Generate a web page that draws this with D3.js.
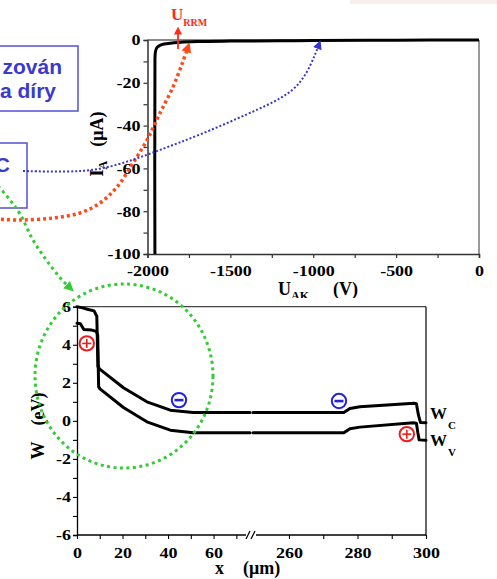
<!DOCTYPE html>
<html><head><meta charset="utf-8">
<script src="https://cdn.jsdelivr.net/npm/d3@7"></script>
<style>body{margin:0;background:#fff} svg{display:block}</style>
</head><body>
<svg id="c" width="497" height="579"></svg>
<script>
// ---------- Upper chart: reverse I-V characteristic ----------
const uAK = [-1955,-1955,-1953,-1948,-1940,-1925,-1900,-1850,-1800,-1700,-1500,-1200,-1000,-500,0];
const iA  = [-110,-9,-6,-4.3,-3.3,-2.5,-1.9,-1.4,-1.0,-0.7,-0.5,-0.35,-0.25,-0.1,0];
const uTicks = d3.range(-2000, 1, 250);
const iTicks = d3.range(-100, 1, 10);
const uRRM = -1816;

// ---------- Lower chart: band diagram ----------
const xC_left  = [0,2,5,7.5,8.7,9.2,10,20.4,30.7,41,51,76];
const wC_left  = [6.0,5.95,5.85,5.78,5.5,2.85,2.72,1.74,1.0,0.56,0.44,0.44];
const xV_left  = [0,1.5,3,6.5,8.5,9.1,9.5,10.1,20.4,30.7,41,51,76];
const wV_left  = [5.13,5.1,4.8,4.77,4.7,4.5,1.8,1.68,0.7,-0.05,-0.49,-0.63,-0.63];
const xC_right = [249.5,276,277.8,280.7,296.5,297.2,297.8,298.4,300];
const wC_right = [0.44,0.44,0.65,0.74,0.92,0.9,0.3,-0.09,-0.1];
const xV_right = [249.5,276,277.8,280.7,296.3,297.2,297.6,298,300];
const wV_right = [-0.63,-0.63,-0.41,-0.33,-0.1,-0.12,-0.6,-1.0,-1.02];
const xTicksLeft = [0,10,20,30,40,50,60,70];
const xTicksRight = [260,270,280,290,300];
const wTicks = d3.range(-6, 7, 1);
// carriers: [x, W]
const holes = [[4.3,4.07,"L"],[294.4,-0.7,"R"]];
const electrons = [[44.8,1.09,"L"],[274.6,1.04,"R"]];

// ---------- annotation paths (pixel overlays) ----------
const redPath   = [[-5,219],[20,220],[53,218],[80,213],[100,203],[117,187],[133,163],[147,140],[160,113],[173,87],[182,64],[187,50]];
const bluePath  = [[23,171],[67,172],[100,170],[133,160],[157,151],[200,135],[250,113],[283,98],[300,84],[311,65],[318,47]];
const greenPath = [[-2,186],[10,200],[20,214],[33,240],[47,261],[62,280],[68,286]];

const SERIF = "'Liberation Serif','Times New Roman',serif";
const SANS = "'Liberation Sans',Arial,sans-serif";
const svg = d3.select("#c");

function stretch(sel, s){
  sel.each(function(){
    const t = d3.select(this);
    const x = +t.attr("x") || 0;
    t.attr("x", x / s);
    const tr = t.attr("transform") || "";
    t.attr("transform", (tr + ` scale(${s},1)`).trim());
  });
}

// faint artefact at top right
svg.append("rect").attr("x",350).attr("y",0).attr("width",147).attr("height",4).attr("fill","#f7efeb");

// ===== Upper chart =====
const xU = d3.scaleLinear([-2000,0],[147.5,479]);
const yU = d3.scaleLinear([-100,0],[254,40]);
const up = svg.append("g");
up.append("clipPath").attr("id","clipU").append("rect")
  .attr("x",147.5).attr("y",37).attr("width",332).attr("height",217);

// frame top/right (grey)
up.append("line").attr("x1",147.5).attr("x2",479).attr("y1",40).attr("y2",40).attr("stroke","#8a8a8a").attr("stroke-width",2);
up.append("line").attr("x1",479).attr("x2",479).attr("y1",40).attr("y2",254).attr("stroke","#777").attr("stroke-width",1.5);

const axU = up.append("g").attr("transform","translate(0,254)")
  .call(d3.axisBottom(xU).tickValues(uTicks).tickSize(4).tickPadding(7)
        .tickFormat(d => d % 500 === 0 ? String(d) : ""));
const ayU = up.append("g").attr("transform","translate(147.5,0)")
  .call(d3.axisLeft(yU).tickValues(iTicks).tickSize(4).tickPadding(3)
        .tickFormat(d => d % 20 === 0 ? String(d) : ""));
[axU, ayU].forEach(a => {
  a.select(".domain").attr("stroke","#333").attr("stroke-width",1.5);
  a.selectAll(".tick line").attr("stroke","#333").attr("stroke-width",1.2);
  a.selectAll("text").attr("font-family",SERIF).attr("font-weight","bold").attr("font-size",15).attr("fill","#000");
  stretch(a.selectAll("text"), 1.2);
});

up.append("path")
  .datum(uAK.map((u,i)=>[u,iA[i]]))
  .attr("clip-path","url(#clipU)")
  .attr("d", d3.line().x(d=>xU(d[0])).y(d=>yU(d[1])).curve(d3.curveCatmullRom.alpha(0.5)))
  .attr("fill","none").attr("stroke","#000").attr("stroke-width",3).attr("stroke-linejoin","round");

// axis titles upper
const tI = up.append("text").attr("transform","translate(103,144) rotate(-90)")
  .attr("text-anchor","middle").attr("font-family",SERIF).attr("font-weight","bold").attr("font-size",18);
tI.append("tspan").text("I");
tI.append("tspan").attr("font-size",12).attr("dy",4).text("A");
tI.append("tspan").attr("dy",-4).attr("dx",14).text("(μA)");

const tU = up.append("text").attr("x",278).attr("y",295)
  .attr("font-family",SERIF).attr("font-weight","bold").attr("font-size",18);
tU.append("tspan").text("U");
tU.append("tspan").attr("font-size",12).attr("dy",5).text("AK");
tU.append("tspan").attr("dy",-5).attr("dx",24).text("(V)");

// U_RRM annotation
const red = "#ff2a1a";
const tR = up.append("text").attr("x",171).attr("y",20).attr("fill",red)
  .attr("font-family",SERIF).attr("font-weight","bold").attr("font-size",17);
tR.append("tspan").text("U");
tR.append("tspan").attr("font-size",10).attr("dy",6).text("RRM");

const defs = svg.append("defs");
function marker(id, color, w, h){
  defs.append("marker").attr("id",id).attr("viewBox","0 0 10 10").attr("refX",2).attr("refY",5)
    .attr("markerWidth",w).attr("markerHeight",h).attr("markerUnits","userSpaceOnUse").attr("orient","auto")
    .append("path").attr("d","M0,0 L10,5 L0,10 Z").attr("fill",color);
}
marker("mRRM", red, 8, 8);
marker("mRed", "#ff4a1a", 10, 10);
marker("mBlue", "#3636cc", 9, 9);
marker("mGreen", "#33cc33", 10, 10);

up.append("line").attr("x1",xU(uRRM)).attr("x2",xU(uRRM)).attr("y1",49).attr("y2",33)
  .attr("stroke",red).attr("stroke-width",1.8).attr("marker-end","url(#mRRM)");

// ===== Lower chart (pasted panel) =====
svg.append("rect").attr("x",0).attr("y",298).attr("width",497).attr("height",281).attr("fill","#fff");
const xL = d3.scaleLinear([0,76],[77,250]);
const xR = d3.scaleLinear([249.5,300],[253,426]);
const yW = d3.scaleLinear([-6,6],[535,306.7]);
const lo = svg.append("g");

lo.append("line").attr("x1",77).attr("x2",426).attr("y1",306.7).attr("y2",306.7).attr("stroke","#444").attr("stroke-width",1.3);
lo.append("line").attr("x1",426).attr("x2",426).attr("y1",306.7).attr("y2",535).attr("stroke","#000").attr("stroke-width",1.2);
lo.append("line").attr("x1",77).attr("x2",426).attr("y1",535).attr("y2",535).attr("stroke","#000").attr("stroke-width",1.3);

const ayW = lo.append("g").attr("transform","translate(77,0)")
  .call(d3.axisLeft(yW).tickValues(wTicks).tickSize(4).tickPadding(2)
        .tickFormat(d => d % 2 === 0 ? String(d) : ""));
const axL = lo.append("g").attr("transform","translate(0,535)")
  .call(d3.axisBottom(xL).tickValues(xTicksLeft).tickSize(4).tickPadding(8)
        .tickFormat(d => d % 20 === 0 ? String(d) : ""));
const axR = lo.append("g").attr("transform","translate(0,535)")
  .call(d3.axisBottom(xR).tickValues(xTicksRight).tickSize(4).tickPadding(8)
        .tickFormat(d => d % 20 === 0 ? String(d) : ""));
axL.select(".domain").remove();
axR.select(".domain").remove();
[ayW, axL, axR].forEach(a => {
  a.select(".domain").attr("stroke","#000").attr("stroke-width",1.3);
  a.selectAll(".tick line").attr("stroke","#000").attr("stroke-width",1.1);
  a.selectAll("text").attr("font-family",SERIF).attr("font-weight","bold").attr("font-size",15).attr("fill","#000");
  stretch(a.selectAll("text"), 1.2);
});
// axis break marks
lo.append("rect").attr("x",246).attr("y",532).attr("width",10).attr("height",6).attr("fill","#fff");
[[246,250],[251,255]].forEach(([a,b]) => {
  lo.append("line").attr("x1",a).attr("y1",539).attr("x2",b).attr("y2",531).attr("stroke","#000").attr("stroke-width",1.3);
});

const lineL = d3.line().x(d=>xL(d[0])).y(d=>yW(d[1]));
const lineR = d3.line().x(d=>xR(d[0])).y(d=>yW(d[1]));
const bands = [
  [xC_left.map((x,i)=>[x,wC_left[i]]), lineL],
  [xV_left.map((x,i)=>[x,wV_left[i]]), lineL],
  [xC_right.map((x,i)=>[x,wC_right[i]]), lineR],
  [xV_right.map((x,i)=>[x,wV_right[i]]), lineR]
];
bands.forEach(([data, gen]) => {
  lo.append("path").datum(data).attr("d", gen)
    .attr("fill","none").attr("stroke","#000").attr("stroke-width",3)
    .attr("stroke-linejoin","round").attr("stroke-linecap","round");
});

// band labels
function bandLabel(x, y, sub){
  const t = lo.append("text").attr("x",x).attr("y",y).attr("font-family",SERIF).attr("font-weight","bold").attr("font-size",17);
  t.append("tspan").text("W");
  t.append("tspan").attr("font-size",11).attr("dy",10).attr("dx",1).text(sub);
}
bandLabel(430, 419, "C");
bandLabel(430, 446, "V");

// axis titles lower
const tW = lo.append("text").attr("transform","translate(44,426) rotate(-90)")
  .attr("text-anchor","middle").attr("font-family",SERIF).attr("font-weight","bold").attr("font-size",18);
tW.append("tspan").text("W");
tW.append("tspan").attr("dx",16).text("(eV)");
const tX = lo.append("text").attr("x",215).attr("y",574)
  .attr("font-family",SERIF).attr("font-weight","bold").attr("font-size",18);
tX.append("tspan").text("x");
tX.append("tspan").attr("dx",19).text("(μm)");

// carriers
function carrier(x, w, side, color, plus){
  const cx = side === "L" ? xL(x) : xR(x), cy = yW(w);
  const g = lo.append("g").attr("stroke",color).attr("fill","none");
  g.append("circle").attr("cx",cx).attr("cy",cy).attr("r",7.2).attr("stroke-width",2);
  g.append("line").attr("x1",cx-4.5).attr("x2",cx+4.5).attr("y1",cy).attr("y2",cy).attr("stroke-width", plus ? 1.6 : 2.6);
  if (plus) g.append("line").attr("x1",cx).attr("x2",cx).attr("y1",cy-4.5).attr("y2",cy+4.5).attr("stroke-width",1.6);
}
holes.forEach(d => carrier(d[0], d[1], d[2], "#ee1c1c", true));
electrons.forEach(d => carrier(d[0], d[1], d[2], "#2222dd", false));

// ===== Annotations =====
const blue = "#3a3acc";
const ann = svg.append("g");
// text boxes
ann.append("rect").attr("x",-10).attr("y",46).attr("width",88).attr("height",65)
  .attr("fill","#fff").attr("stroke","#5050d8").attr("stroke-width",1.5);
ann.append("text").attr("x",62).attr("y",74).attr("text-anchor","end").attr("fill",blue)
  .attr("font-family",SANS).attr("font-weight","bold").attr("font-size",21).text("zován");
ann.append("text").attr("x",56).attr("y",98).attr("text-anchor","end").attr("fill",blue)
  .attr("font-family",SANS).attr("font-weight","bold").attr("font-size",21).text("a díry");
ann.append("rect").attr("x",-10).attr("y",143).attr("width",37).attr("height",65)
  .attr("fill","#fff").attr("stroke","#5050d8").attr("stroke-width",1.5);
ann.append("text").attr("x",10).attr("y",172).attr("text-anchor","end").attr("fill",blue)
  .attr("font-family",SANS).attr("font-weight","bold").attr("font-size",21).text("C");

const curve = d3.line().curve(d3.curveCatmullRom.alpha(0.5));
ann.append("path").attr("d", curve(redPath)).attr("fill","none").attr("stroke","#ff4a1a")
  .attr("stroke-width",3.5).attr("stroke-dasharray","3,3").attr("marker-end","url(#mRed)");
ann.append("path").attr("d", d3.line().curve(d3.curveBasis)(bluePath)).attr("fill","none").attr("stroke","#3636cc")
  .attr("stroke-width",2).attr("stroke-dasharray","2,2").attr("marker-end","url(#mBlue)");
ann.append("path").attr("d", curve(greenPath)).attr("fill","none").attr("stroke","#33cc33")
  .attr("stroke-width",3).attr("stroke-dasharray","3,3.5").attr("marker-end","url(#mGreen)");
ann.append("ellipse").attr("cx",124).attr("cy",376).attr("rx",89).attr("ry",92)
  .attr("fill","none").attr("stroke","#33cc33").attr("stroke-width",3).attr("stroke-dasharray","3,3.5");
</script>
</body></html>
